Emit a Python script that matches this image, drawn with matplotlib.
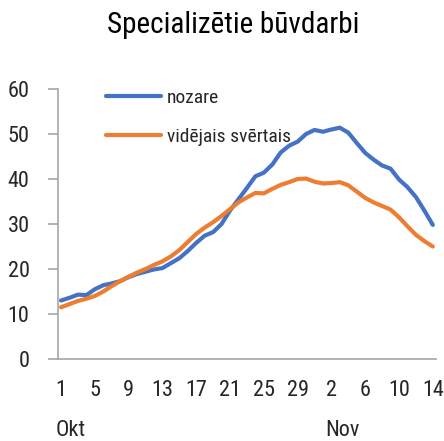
import matplotlib
matplotlib.use("Agg")
import matplotlib.pyplot as plt
from matplotlib import font_manager
from matplotlib.font_manager import FontProperties

def pick_font():
    prefs = ["LiberationSansNarrow-Regular", "RobotoCondensed-Regular", "Roboto_Condensed",
             "OpenSansCondensed", "OpenSans_Condensed", "DejaVuSansCondensed.ttf", "NotoSans-Condensed",
             "Condensed", "Narrow"]
    files = [f for f in font_manager.fontManager.ttflist]
    for p in prefs:
        for f in files:
            base = f.fname.split("/")[-1]
            if p.lower() in base.lower() and "bold" not in base.lower() and "italic" not in base.lower() \
               and "light" not in base.lower() and "oblique" not in base.lower() and "medium" not in base.lower() \
               and "thin" not in base.lower() and "black" not in base.lower() and "semi" not in base.lower().replace("semicondensed", "x"):
                return f.fname, True
    return None, False

fname, condensed = pick_font()
scale = 1.0 if condensed else 0.8

def fp(size):
    if fname:
        return FontProperties(fname=fname, size=size * scale)
    return FontProperties(family="DejaVu Sans", size=size * scale)

title = "Specializētie būvdarbi"
series_names = ["nozare", "vidējais svērtais"]
nozare = [13.0, 13.6, 14.3, 14.2, 15.5, 16.4, 16.8, 17.3, 18.2, 18.9, 19.4, 19.9, 20.2, 21.3, 22.4,
          24.0, 25.8, 27.4, 28.2, 30.0, 33.0, 35.5, 38.0, 40.6, 41.4, 43.2, 45.9, 47.4, 48.3, 50.0,
          50.9, 50.5, 51.0, 51.4, 50.3, 48.0, 45.8, 44.3, 43.0, 42.3, 39.9, 38.2, 36.0, 33.0, 29.8]
videjais = [11.5, 12.2, 12.9, 13.4, 14.0, 15.0, 16.2, 17.3, 18.3, 19.2, 20.0, 20.9, 21.7, 22.8, 24.2,
            26.0, 27.8, 29.2, 30.4, 31.8, 33.3, 34.8, 35.9, 36.9, 36.8, 37.8, 38.7, 39.3, 40.0, 40.1,
            39.4, 39.0, 39.1, 39.3, 38.6, 37.2, 35.8, 34.8, 34.0, 33.2, 31.5, 29.5, 27.6, 26.2, 25.0]
day_labels = ["1", "5", "9", "13", "17", "21", "25", "29", "2", "6", "10", "14"]
tick_idx = list(range(0, 45, 4))
month_labels = ["Okt", "Nov"]
month_idx = [0, 32]
yticks = [0, 10, 20, 30, 40, 50, 60]

fig = plt.figure(figsize=(4.44, 4.41), dpi=100)
ax = fig.add_axes([58/444, (441-359)/441, (436-58)/444, (359-89)/441])
x = list(range(len(nozare)))
ax.plot(x, nozare, color="#4472C4", lw=3.0, solid_capstyle='round', label=series_names[0])
ax.plot(x, videjais, color="#ED7D31", lw=3.0, solid_capstyle='round', label=series_names[1])
ax.set_xlim(-0.36, 44.38)
ax.set_ylim(0, 60)
for s in ["top", "right"]:
    ax.spines[s].set_visible(False)
for s in ["left", "bottom"]:
    ax.spines[s].set_color("#A6A6A6")
    ax.spines[s].set_linewidth(1.2)
ax.set_yticks(yticks)
ax.set_yticklabels([str(v) for v in yticks])
ax.tick_params(axis='y', length=7.5, width=1.2, color="#A6A6A6", pad=13, labelcolor="#262626")
ax.set_xticks(tick_idx)
ax.set_xticklabels(day_labels)
ax.tick_params(axis='x', length=0, pad=15, labelcolor="#262626")
for lab in ax.get_xticklabels() + ax.get_yticklabels():
    lab.set_fontproperties(fp(16))
for lab, i in zip(month_labels, month_idx):
    ax.text(i - 0.7, -15.8, lab, ha='left', va='center', fontproperties=fp(16), color="#262626")

leg = ax.legend(loc='upper left', bbox_to_anchor=(0.107, 1.03), frameon=False, prop=fp(14),
                handlelength=2.8, handletextpad=0.3, labelspacing=1.1, borderaxespad=0)
for t in leg.get_texts():
    t.set_color("#262626")
fig.text(0.525, 0.943, title, ha='center', va='center', fontproperties=fp(21), color="black")
fig.savefig("out.png", dpi=100)
